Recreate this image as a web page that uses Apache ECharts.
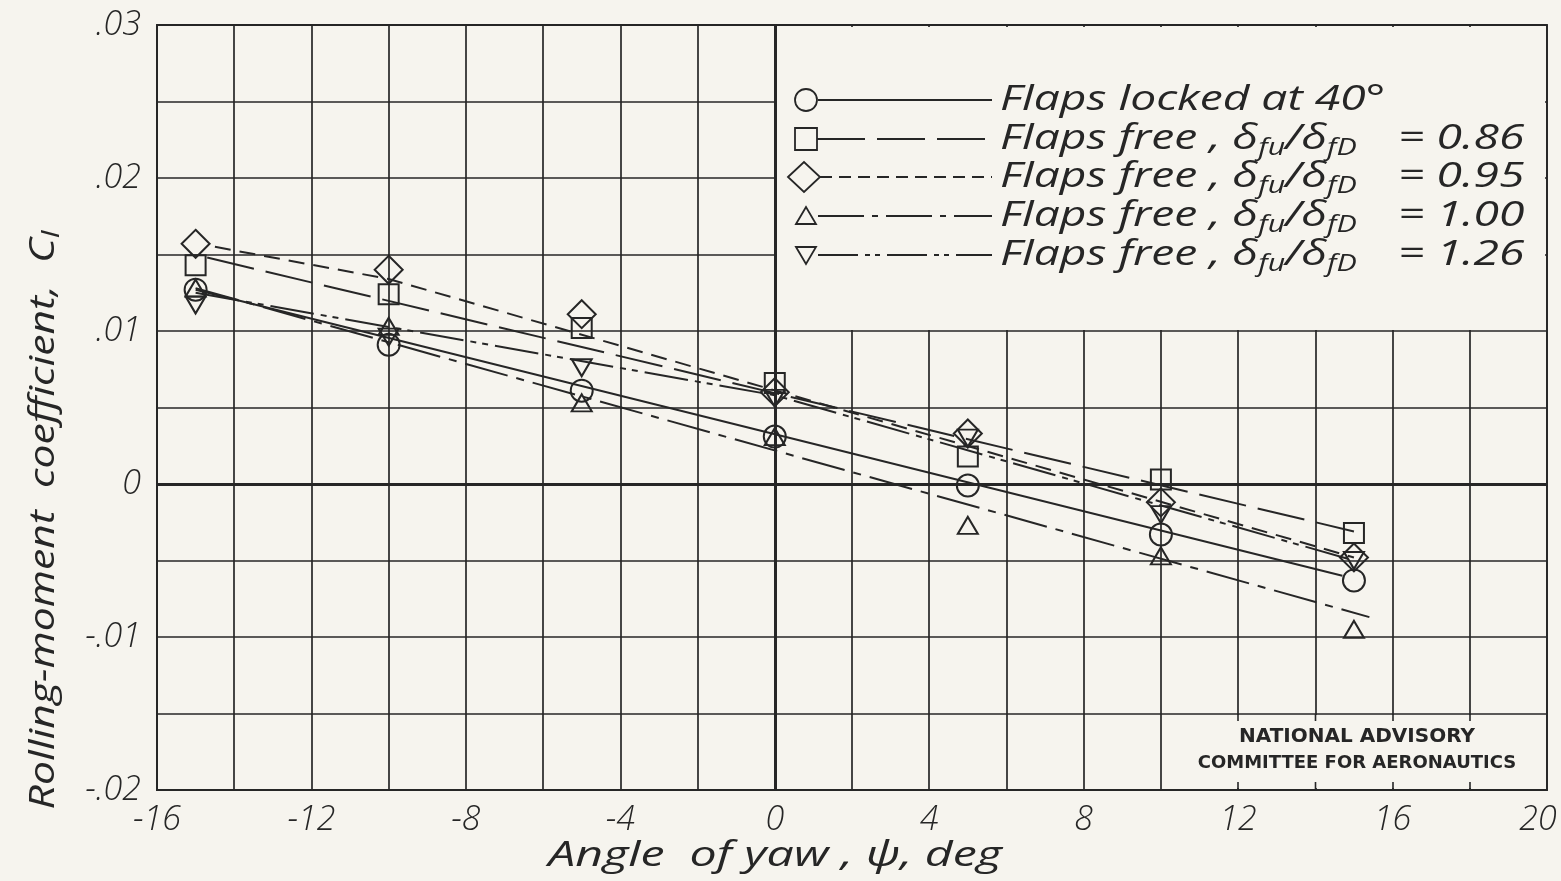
<!DOCTYPE html>
<html>
<head>
<meta charset="utf-8">
<script src="https://cdn.jsdelivr.net/npm/echarts@6/dist/echarts.min.js"></script>
<style>
html,body{margin:0;padding:0;background:#f6f4ee;}
#chart{width:1561px;height:881px;}
</style>
</head>
<body>
<div id="chart"></div>
<script>
// ---- data ----
const xValues = [-15, -10, -5, 0, 5, 10, 15];
const lockedValues  = [0.0127, 0.0091, 0.0061, 0.0031, -0.0001, -0.0033, -0.0063];
const free086Values = [0.0143, 0.0124, 0.0102, 0.0066, 0.0018, 0.0003, -0.0032];
const free095Values = [0.0157, 0.0140, 0.0111, 0.0060, 0.0033, -0.0012, -0.0048];
const free100Values = [0.0128, 0.0103, 0.0053, 0.0031, -0.0027, -0.0047, -0.0095];
const free126Values = [0.0117, 0.0096, 0.0076, 0.0056, 0.0030, -0.0020, -0.0050];

// faired lines (end / break points)
const fairLocked = [[-15, 0.0127], [14.7, -0.0060]];
const fair086    = [[-14.7, 0.0148], [15, -0.0031]];
const fair095    = [[-14.5, 0.0155], [-10, 0.0134], [15, -0.0048]];
const fair100    = [[-15, 0.0128], [15.4, -0.0087]];
const fair126    = [[-15, 0.0125], [0, 0.0058], [15, -0.0050]];

const xTickLabels = ['-16', '-12', '-8', '-4', '0', '4', '8', '12', '16', '20'];
const yTickLabels = ['-.02', '-.01', '0', '.01', '.02', '.03'];

const legendNames  = ['Flaps locked at 40°', 'Flaps free ,', 'Flaps free ,', 'Flaps free ,', 'Flaps free ,'];
const legendRatios = ['', '= 0.86', '= 0.95', '= 1.00', '= 1.26'];

// ---- styling ----
const INK = '#262626';
const BG = '#f6f4ee';
const FONT = "'Open Sans', 'DejaVu Sans', sans-serif";

const chart = echarts.init(document.getElementById('chart'));

function pts(vals) { return xValues.map((x, i) => [x, vals[i]]); }

const markerDefs = [
  { vals: lockedValues,  symbol: 'circle',   size: 22, rot: 0 },
  { vals: free086Values, symbol: 'rect',     size: 20, rot: 0 },
  { vals: free095Values, symbol: 'diamond',  size: [28, 28], rot: 0 },
  { vals: free100Values, symbol: 'triangle', size: [20, 17], rot: 0 },
  { vals: free126Values, symbol: 'triangle', size: [20, 17], rot: 180 }
];
const fairDefs = [
  { data: fairLocked, dash: 'solid' },
  { data: fair086,    dash: [48, 12] },
  { data: fair095,    dash: [16, 9] },
  { data: fair100,    dash: [44, 9, 8, 9] },
  { data: fair126,    dash: [44, 7, 6, 6, 6, 7] }
];

const series = [];
fairDefs.forEach(f => {
  series.push({
    type: 'line', data: f.data, showSymbol: false, silent: true,
    lineStyle: { color: INK, width: 2, type: f.dash }, z: 3
  });
});
markerDefs.forEach(m => {
  series.push({
    type: 'scatter', data: pts(m.vals), symbol: m.symbol, symbolSize: m.size,
    symbolRotate: m.rot, silent: true,
    itemStyle: { color: 'rgba(246,244,238,0)', borderColor: INK, borderWidth: 2, opacity: 1 }, z: 4
  });
});
// heavy zero lines
series.push({
  type: 'line', data: [], silent: true,
  markLine: {
    silent: true, symbol: 'none', label: { show: false },
    lineStyle: { color: INK, width: 3, type: 'solid', opacity: 1 },
    data: [{ xAxis: 0 }, { yAxis: 0 }]
  }, z: 2
});

const TXT = 'italic 400 35px ' + FONT;
const SX = 1.32;

// legend graphics
const legendG = [];
const rowY = [100, 139, 177, 216, 255];
const legendDash = ['solid', [48, 12], [12, 7], [46, 8, 6, 8], [40, 7, 5, 5, 5, 7]];
rowY.forEach((y, i) => {
  let mk;
  if (i === 0) mk = { type: 'circle', shape: { cx: 806, cy: y, r: 11 } };
  else if (i === 1) mk = { type: 'rect', shape: { x: 795, y: y - 11, width: 22, height: 22 } };
  else if (i === 2) mk = { type: 'polygon', shape: { points: [[788, y], [804, y - 15], [820, y], [804, y + 15]] } };
  else if (i === 3) mk = { type: 'polygon', shape: { points: [[796, y + 8], [806, y - 9], [816, y + 8]] } };
  else mk = { type: 'polygon', shape: { points: [[796, y - 8], [806, y + 9], [816, y - 8]] } };
  mk.style = { fill: 'none', stroke: INK, lineWidth: 1.8 };
  mk.z = 10;
  legendG.push(mk);
  const x0 = i === 2 ? 820 : (i === 1 ? 817 : 818);
  legendG.push({ type: 'line', shape: { x1: x0, y1: y, x2: 992, y2: y }, style: { stroke: INK, lineWidth: 2, lineDash: legendDash[i] === 'solid' ? null : legendDash[i] }, z: 10 });
  const txt = i === 0 ? legendNames[0] : legendNames[i] + ' δ{s|fu}/δ{s|fD}';
  legendG.push({
    type: 'text', x: 1000, y: y, z: 10, scaleX: SX,
    style: {
      text: txt, fill: INK, font: TXT,
      verticalAlign: 'middle',
      rich: { s: { fontSize: 23, fontStyle: 'italic', fontWeight: 400, fontFamily: FONT, fill: INK, padding: [18, 0, 0, 0] } }
    }
  });
  if (legendRatios[i]) {
    legendG.push({ type: 'text', x: 1398, y: y, z: 10, scaleX: SX, style: { text: legendRatios[i], fill: INK, font: TXT, verticalAlign: 'middle' } });
  }
});

const graphics = [
  // legend panel (grid removed)
  { type: 'rect', shape: { x: 777, y: 27, width: 768, height: 303 }, style: { fill: BG }, z: 1 },
  // NACA box
  { type: 'rect', shape: { x: 1163, y: 715, width: 382, height: 73 }, style: { fill: BG }, z: 1 },
  { type: 'text', x: 1357, y: 737, z: 10, style: { text: 'NATIONAL ADVISORY', fill: INK, font: '600 20px "DejaVu Sans", sans-serif', align: 'center', verticalAlign: 'middle' } },
  { type: 'text', x: 1357, y: 763, z: 10, style: { text: 'COMMITTEE FOR AERONAUTICS', fill: INK, font: '600 18px "DejaVu Sans", sans-serif', align: 'center', verticalAlign: 'middle' } },
  // axis titles
  { type: 'text', x: 775, y: 856, z: 10, scaleX: 1.38, style: { text: 'Angle  of yaw , ψ, deg', fill: INK, font: TXT, align: 'center', verticalAlign: 'middle' } },
  { type: 'text', x: 44, y: 520, rotation: Math.PI / 2, scaleX: 1.22, z: 10, style: { text: 'Rolling-moment  coefficient,  C{s|l}', fill: INK, font: TXT, align: 'center', verticalAlign: 'middle', rich: { s: { fontSize: 24, fontStyle: 'italic', fontWeight: 400, fontFamily: FONT, fill: INK, padding: [16, 0, 0, 0] } } } }
];
[1238, 1315.5, 1393, 1470].forEach(px => {
  graphics.push({ type: 'line', shape: { x1: px, y1: 714, x2: px, y2: 721 }, style: { stroke: INK, lineWidth: 1.6 }, z: 2 });
  graphics.push({ type: 'line', shape: { x1: px, y1: 782, x2: px, y2: 789 }, style: { stroke: INK, lineWidth: 1.6 }, z: 2 });
});

const tickFont = { color: INK, fontSize: 34, fontStyle: 'italic', fontWeight: 300, fontFamily: FONT };

chart.setOption({
  backgroundColor: BG,
  animation: false,
  grid: { left: 157, right: 14, top: 25, bottom: 91, show: true, borderColor: INK, borderWidth: 1.8, containLabel: false, outerBoundsMode: 'none' },
  xAxis: {
    type: 'value', min: -16, max: 20, interval: 2,
    axisLine: { onZero: false, lineStyle: { color: INK, width: 1.8 } },
    axisTick: { show: false },
    splitLine: { lineStyle: { color: INK, width: 1.7 } },
    axisLabel: Object.assign({
      margin: 13,
      formatter: v => {
        const r = Math.round(v);
        if (r % 4 !== 0) return '';
        const t = xTickLabels[(r + 16) / 4];
        return r === 20 ? '{r|' + t + '}' : t;
      },
      rich: { r: Object.assign({ padding: [0, 18, 0, 0] }, tickFont) }
    }, tickFont)
  },
  yAxis: {
    type: 'value', min: -0.02, max: 0.03, interval: 0.005,
    axisLine: { onZero: false, lineStyle: { color: INK, width: 1.8 } },
    axisTick: { show: false },
    splitLine: { lineStyle: { color: INK, width: 1.7 } },
    axisLabel: Object.assign({
      margin: 16,
      formatter: v => { const k = Math.round(v * 1000); return k % 10 === 0 ? yTickLabels[(k + 20) / 10] : ''; }
    }, tickFont)
  },
  graphic: { elements: graphics.concat(legendG) },
  series: series
});
</script>
</body>
</html>
